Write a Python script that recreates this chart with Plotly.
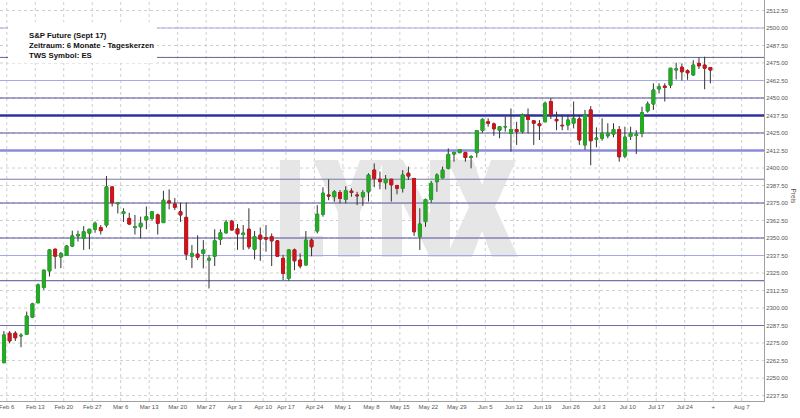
import pandas as pd
import plotly.graph_objects as go

# trading sessions (daily candles), Good Friday closed
SESSIONS = pd.bdate_range("2017-02-03", "2017-07-28")
HOLIDAYS = ["2017-04-14"]

OPEN = [
    2261, 2282, 2282, 2280, 2281.25, 2293.5, 2303.75, 2314.75, 2326.5, 2342,
    2336.5, 2337.5, 2344.25, 2351.5, 2349.75, 2353.5, 2356.25, 2357.5, 2359.25, 2386.5,
    2374.5, 2367.5, 2364, 2357.5, 2358, 2363, 2364, 2366.5, 2361, 2376.5,
    2374.25, 2368.75, 2364.75, 2337, 2338.5, 2339, 2334.25, 2337, 2349, 2353.75,
    2362, 2356.5, 2352.5, 2356.25, 2342, 2352, 2350.25, 2351, 2348, 2335.5,
    2321.25, 2341.5, 2334.25, 2330.75, 2348.5, 2355, 2367, 2380.75, 2379.5, 2382.5,
    2377.5, 2383.5, 2380.75, 2379.5, 2383, 2398.5, 2392, 2389.5, 2392, 2387.5,
    2385.5, 2396.25, 2392.5, 2351, 2361.75, 2377.5, 2390.25, 2393, 2399.75, 2410,
    2411, 2411, 2407.5, 2411, 2426.75, 2433, 2431.5, 2427, 2429.5, 2424.75,
    2427.5, 2426, 2437, 2433.75, 2431.5, 2433, 2447.5, 2434.75, 2430.5, 2430.75,
    2432, 2435, 2416.5, 2441.5, 2420.5, 2421.25, 2423, 2424.25, 2427.5, 2408.5,
    2422.5, 2423.25, 2424.75, 2440.75, 2445.75, 2456.5, 2458.5, 2459.25, 2470, 2472,
    2469.5, 2466.5, 2474.75, 2473.5, 2471.75,
]
HIGH = [
    2283.5, 2283.5, 2283.5, 2282, 2297.5, 2303.75, 2317.5, 2327.5, 2342, 2342.5,
    2340, 2345, 2355.25, 2355.25, 2358.5, 2356.5, 2361.75, 2359.25, 2394.25, 2387,
    2375.25, 2371.25, 2368, 2366.5, 2365.25, 2372.5, 2369, 2367.5, 2383.75, 2384.75,
    2378.5, 2375.25, 2375.25, 2345, 2352, 2348.5, 2338, 2356.25, 2356.25, 2363,
    2363, 2360, 2359.25, 2371.25, 2355, 2357.5, 2359.25, 2353.25, 2348.5, 2338,
    2342, 2342.5, 2339, 2355, 2349.75, 2373.5, 2386.25, 2392, 2384.25, 2384.25,
    2387, 2385.5, 2383, 2384.25, 2396.25, 2403.25, 2397.5, 2395, 2392, 2388,
    2398.5, 2401, 2393, 2371.25, 2378.25, 2390.75, 2396.25, 2401, 2414, 2411.75,
    2413.25, 2411.75, 2409.25, 2427, 2435.5, 2435.5, 2432.5, 2430, 2436.75, 2442.5,
    2433, 2439, 2442.5, 2434.25, 2434.25, 2447.5, 2450, 2440.25, 2438, 2438,
    2447.5, 2438, 2441.5, 2444.25, 2429, 2435.5, 2432, 2432, 2430, 2429.5,
    2429.5, 2427, 2443.75, 2447.5, 2460.5, 2460.5, 2460.5, 2471.25, 2475.25, 2474.75,
    2470.5, 2477, 2479, 2479.5, 2471.75,
]
LOW = [
    2260.5, 2274.75, 2276.5, 2272, 2280.75, 2293.25, 2303.5, 2313, 2322.5, 2328,
    2328.5, 2337.25, 2343.5, 2347.5, 2341.5, 2342, 2353.75, 2352.5, 2357.5, 2372.5,
    2367.5, 2361.5, 2359.25, 2352.5, 2349.75, 2356.25, 2362.5, 2352.5, 2360.75, 2370.5,
    2370, 2361.5, 2334.25, 2328.5, 2334.25, 2328.25, 2314, 2330, 2345, 2353.25,
    2355.25, 2341.5, 2341.5, 2342, 2334.75, 2333.75, 2340.25, 2330, 2337, 2320,
    2319.5, 2327, 2328.25, 2330.5, 2337, 2353.25, 2365.25, 2377, 2376, 2374.75,
    2374.75, 2379.5, 2373.5, 2373, 2376, 2386.25, 2384.75, 2384.75, 2376, 2381.25,
    2382.5, 2391.5, 2351.5, 2341.5, 2358, 2375.25, 2383, 2392.5, 2399, 2404.5,
    2410.5, 2404.5, 2399.75, 2407.5, 2425.25, 2429.5, 2423, 2421.25, 2426, 2411.75,
    2416.5, 2424.75, 2424.75, 2416.5, 2420, 2433, 2435, 2427, 2427, 2427,
    2428.25, 2416.5, 2413, 2402, 2414.75, 2419.5, 2421.25, 2422, 2404.5, 2407,
    2420, 2410, 2422, 2439.5, 2441.5, 2453.25, 2447.5, 2457, 2463.25, 2462.5,
    2463, 2465.75, 2470.75, 2456.25, 2460.5,
]
CLOSE = [
    2280.75, 2276.5, 2278.75, 2280.5, 2294.25, 2303, 2316.5, 2327, 2341.5, 2337,
    2339, 2344.25, 2351.5, 2352.5, 2354.5, 2356.25, 2360.5, 2355.25, 2386.5, 2375.25,
    2375, 2368.75, 2360, 2358, 2360.5, 2365.25, 2368.75, 2360.5, 2377, 2375.25,
    2372, 2366.5, 2338.5, 2339, 2336.25, 2341.5, 2335.5, 2348, 2353.75, 2361.25,
    2355.75, 2353, 2353.5, 2343.75, 2351, 2349.25, 2349.25, 2348, 2337, 2324.75,
    2341.5, 2333.75, 2330, 2348.5, 2343.75, 2367, 2382, 2380, 2383, 2378.25,
    2383.75, 2382.5, 2380.25, 2382.5, 2395, 2392.5, 2390.25, 2392, 2388, 2385.5,
    2395, 2394.25, 2354.5, 2360, 2377.5, 2389, 2395, 2398.5, 2409.75, 2411,
    2413, 2407.5, 2408, 2426.75, 2434.75, 2432, 2428, 2429.5, 2429.5, 2427.5,
    2426, 2438, 2434.75, 2432, 2430.25, 2446.25, 2438, 2433.75, 2430.25, 2434.25,
    2435.5, 2420, 2438, 2419.5, 2421.25, 2424.75, 2424.75, 2427.5, 2408, 2422,
    2424.75, 2424, 2439.5, 2445.75, 2455.75, 2458, 2457.5, 2471.25, 2470.75, 2468.75,
    2468, 2473.5, 2473, 2471.25, 2470,
]

# drawn support / resistance levels
LEVELS = [2500, 2479, 2462.5, 2450, 2437.5, 2425, 2412.5, 2392, 2375, 2350, 2337.5, 2319.5, 2287.5]
LEVEL_STYLE = [
    ("#a6a9e6", 1), ("#62628f", 1), ("#a6a9e6", 1), ("#4c4c9c", 1), ("#3030a0", 2.5),
    ("#55559a", 1), ("#8a8ade", 2.5), ("#7b7ba6", 1), ("#4f4f96", 1), ("#4f4f9e", 1),
    ("#a3a7e6", 1), ("#4f4f92", 1), ("#6c6cac", 1),
]

Y_TICKS = [2237.5 + 12.5 * i for i in range(23)]
TICK_DAYS = pd.date_range("2017-02-06", "2017-08-07", freq="W-MON")
TICK_LABELS = ["Feb 6", "Feb 13", "Feb 20", "Feb 27", "Mar 6", "Mar 13", "Mar 20", "Mar 27",
               "Apr 3", "Apr 10", "Apr 17", "Apr 24", "May 1", "May 8", "May 15", "May 22",
               "May 29", "Jun 5", "Jun 12", "Jun 19", "Jun 26", "Jul 3", "Jul 10", "Jul 17",
               "Jul 24", "+", "Aug 7"]

GREEN = "#23ad23"
RED = "#d0141c"
WICK = "#333333"
GRID = "#cfcfcf"

PLOT_W, PLOT_H = 764, 401  # plot area in px (for paper-coordinate decorations)

dates = [d + pd.Timedelta(hours=12) for d in SESSIONS if d.strftime("%Y-%m-%d") not in HOLIDAYS]
body_hi = [max(o, c) for o, c in zip(OPEN, CLOSE)]
body_lo = [min(o, c) for o, c in zip(OPEN, CLOSE)]

fig = go.Figure()
# wicks (plus dark outline that the next trace paints over)
fig.add_trace(go.Candlestick(
    x=dates, open=OPEN, high=HIGH, low=LOW, close=CLOSE,
    increasing=dict(line=dict(color=WICK, width=1), fillcolor=GREEN),
    decreasing=dict(line=dict(color=WICK, width=1), fillcolor=RED),
    hoverinfo="skip", showlegend=False,
))
# bodies without outline
fig.add_trace(go.Candlestick(
    x=dates, open=OPEN, high=body_hi, low=body_lo, close=CLOSE,
    increasing=dict(line=dict(color=GREEN, width=1), fillcolor=GREEN),
    decreasing=dict(line=dict(color=RED, width=1), fillcolor=RED),
    hoverinfo="skip", showlegend=False,
))


def px_path(points):
    # logo outline given in plot-area pixels -> paper coordinates
    pts = [f"{x / PLOT_W:.4f},{1 - y / PLOT_H:.4f}" for x, y in points]
    return "M " + " L ".join(pts) + " Z"


LOGO = [
    [(280, 160), (300, 160), (300, 236), (323, 236), (323, 257), (280, 257)],
    [(313, 160), (338, 160), (349, 190), (360, 160), (384, 160), (360, 212), (360, 257),
     (338, 257), (338, 212)],
    [(382, 160), (403, 160), (430, 214), (430, 160), (450, 160), (450, 257), (430, 257),
     (402, 202), (402, 257), (382, 257)],
    [(447, 160), (473, 160), (482, 185), (491, 160), (516, 160), (495, 207), (518, 257),
     (492, 257), (482, 231), (472, 257), (446, 257), (469, 207)],
]

shapes = []
# dotted grid drawn as shapes so the drawn levels sit on top of it
for yv in Y_TICKS:
    shapes.append(dict(type="line", xref="paper", x0=0, x1=1, yref="y", y0=yv, y1=yv,
                       line=dict(color=GRID, width=1, dash="dot"), layer="below"))
for d in TICK_DAYS:
    shapes.append(dict(type="line", xref="x", x0=d, x1=d, yref="paper", y0=0, y1=1,
                       line=dict(color=GRID, width=1, dash="dot"), layer="below"))
for letter in LOGO:
    shapes.append(dict(type="path", xref="paper", yref="paper", path=px_path(letter),
                       fillcolor="#e6e6e6", line=dict(width=0), layer="below"))
for lvl, (col, w) in zip(LEVELS, LEVEL_STYLE):
    shapes.append(dict(type="line", xref="paper", x0=0, x1=1, yref="y", y0=lvl, y1=lvl,
                       line=dict(color=col, width=w), layer="below"))
# white info box top-left
shapes.append(dict(type="rect", xref="paper", yref="paper",
                   x0=8 / PLOT_W, x1=157 / PLOT_W, y0=1 - 63 / PLOT_H, y1=1 - 22 / PLOT_H,
                   fillcolor="white", line=dict(width=0), layer="above"))

fig.update_layout(
    template="none",
    width=800, height=418,
    margin=dict(l=0, r=36, t=0, b=17, autoexpand=False),
    paper_bgcolor="white", plot_bgcolor="white",
    font=dict(family="Liberation Sans, Arial, sans-serif", size=6, color="#555555"),
    showlegend=False,
    shapes=shapes,
    annotations=[
        dict(text="<b>S&P Future (Sept 17)<br>Zeitraum: 6 Monate - Tageskerzen<br>TWS Symbol: ES</b>",
             xref="paper", yref="paper", x=27 / PLOT_W, y=1 - 29 / PLOT_H,
             xanchor="left", yanchor="top", align="left", showarrow=False,
             font=dict(family="Liberation Sans, Arial, sans-serif", size=7.8, color="#111111")),
        dict(text="Preis", xref="paper", yref="paper", x=799 / PLOT_W, y=1 - 196 / PLOT_H,
             xanchor="right", textangle=90, showarrow=False,
             font=dict(size=6.5, color="#555555")),
    ],
)
fig.update_xaxes(
    type="date",
    range=["2017-02-02 19:30", "2017-08-10 22:00"],
    rangebreaks=[dict(bounds=["sat", "mon"]), dict(values=HOLIDAYS)],
    rangeslider=dict(visible=False),
    tickvals=list(TICK_DAYS), ticktext=TICK_LABELS,
    showgrid=False, automargin=False, ticklabeloverflow="allow",
    showline=True, linecolor="#a0a0a0", linewidth=1,
    ticks="", tickfont=dict(size=6, color="#555555"),
    zeroline=False, fixedrange=True,
)
fig.update_yaxes(
    side="right",
    range=[2233.6, 2520],
    tickvals=Y_TICKS, tickformat=".2f",
    showgrid=False, automargin=False, ticklabeloverflow="allow",
    showline=True, linecolor="#a0a0a0", linewidth=1,
    ticks="", tickfont=dict(size=6, color="#555555"),
    zeroline=False, fixedrange=True,
)

# page body margin would shift the whole figure by 8px
fig.write_html("out.html", config=dict(displayModeBar=False),
               post_script="document.body.style.margin='0';")
